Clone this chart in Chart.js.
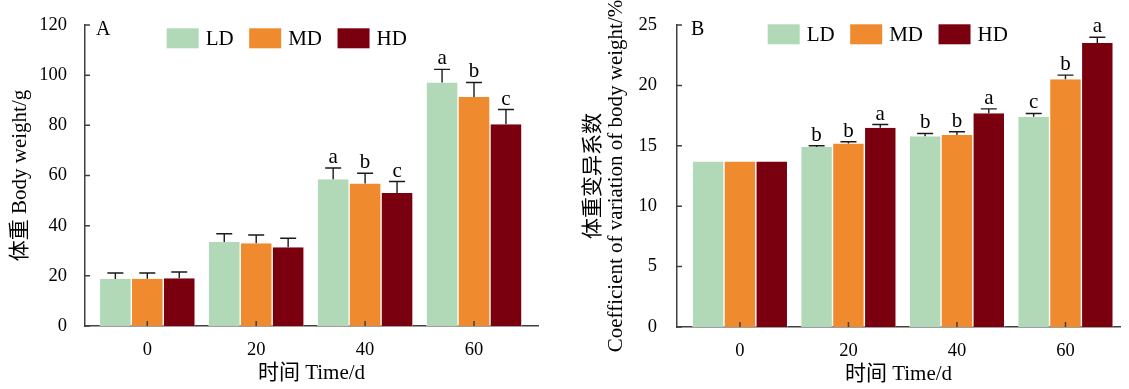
<!DOCTYPE html>
<html>
<head>
<meta charset="utf-8">
<script src="https://cdn.jsdelivr.net/npm/chart.js@4.4.1/dist/chart.umd.min.js"></script>
<style>
  body { margin: 0; background: #fff; }
  #wrap { position: relative; width: 1129px; height: 389px; }
  canvas { position: absolute; top: 0; }
</style>
</head>
<body>
<div id="wrap">
  <canvas id="chartA" width="564" height="389" style="left:0"></canvas>
  <canvas id="chartB" width="565" height="389" style="left:564px"></canvas>
</div>
<script>
// sampling days and groups
const days = [0, 20, 40, 60];
const groups = ['LD', 'MD', 'HD'];
const colors = ['#b1d9b7', '#ef8a2e', '#7b000f'];

// A: body weight (g), mean / SD / letters
const weightLD = [18.7, 33.5, 58.5, 97.1];
const weightMD = [18.8, 33.0, 56.8, 91.3];
const weightHD = [19.0, 31.4, 53.0, 80.4];
const weightSdLD = [2.4, 3.3, 4.5, 5.2];
const weightSdMD = [2.3, 3.3, 4.1, 5.8];
const weightSdHD = [2.5, 3.6, 4.6, 5.9];
const weightLetLD = ['', '', 'a', 'a'];
const weightLetMD = ['', '', 'b', 'b'];
const weightLetHD = ['', '', 'c', 'c'];

// B: coefficient of variation of body weight (%)
const cvLD = [13.7, 14.9, 15.8, 17.4];
const cvMD = [13.7, 15.2, 15.9, 20.5];
const cvHD = [13.7, 16.5, 17.7, 23.5];
const cvSdLD = [0, 0.1, 0.22, 0.28];
const cvSdMD = [0, 0.13, 0.26, 0.35];
const cvSdHD = [0, 0.26, 0.36, 0.48];
const cvLetLD = ['', 'b', 'b', 'c'];
const cvLetMD = ['', 'b', 'b', 'b'];
const cvLetHD = ['', 'a', 'a', 'a'];

const FONT = '"Liberation Serif", "Noto Sans CJK SC", serif';
const axisColor = '#404040';

// inward tick marks on both axes
const innerTicks = {
  id: 'innerTicks',
  afterDatasetsDraw(chart) {
    const { ctx, chartArea: a, scales: { x, y } } = chart;
    ctx.save();
    ctx.strokeStyle = axisColor;
    ctx.lineWidth = 1.5;
    ctx.beginPath();
    x.ticks.forEach(t => {
      const px = x.getPixelForValue(t.value);
      ctx.moveTo(px, a.bottom);
      ctx.lineTo(px, a.bottom - 5);
    });
    y.ticks.forEach(t => {
      const py = y.getPixelForValue(t.value);
      ctx.moveTo(a.left, py);
      ctx.lineTo(a.left + 5, py);
    });
    ctx.stroke();
    ctx.restore();
  }
};

// error bars + significance letters
const errorBars = {
  id: 'errorBars',
  afterDatasetsDraw(chart) {
    const ctx = chart.ctx;
    const y = chart.scales.y;
    ctx.save();
    ctx.font = '21px ' + FONT;
    ctx.fillStyle = '#000';
    ctx.textAlign = 'center';
    ctx.textBaseline = 'alphabetic';
    chart.data.datasets.forEach((ds, i) => {
      const meta = chart.getDatasetMeta(i);
      meta.data.forEach((bar, j) => {
        const sd = ds.sd[j];
        let top = bar.y;
        if (sd) {
          top = y.getPixelForValue(ds.data[j] + sd);
          ctx.strokeStyle = '#1a1a1a';
          ctx.lineWidth = 1.4;
          ctx.beginPath();
          ctx.moveTo(bar.x, bar.y);
          ctx.lineTo(bar.x, top);
          ctx.moveTo(bar.x - 8, top);
          ctx.lineTo(bar.x + 8, top);
          ctx.stroke();
        }
        if (ds.letters[j]) ctx.fillText(ds.letters[j], bar.x, top - 5);
      });
    });
    ctx.restore();
  }
};

// panel letter and legend row
const panel = {
  id: 'panel',
  afterDraw(chart, args, opts) {
    const ctx = chart.ctx;
    ctx.save();
    ctx.fillStyle = '#000';
    ctx.textBaseline = 'alphabetic';
    ctx.font = '20px ' + FONT;
    ctx.fillText(opts.label, opts.labelX, opts.labelY);
    ctx.font = '21px ' + FONT;
    let x = opts.legendX;
    chart.data.datasets.forEach(ds => {
      ctx.fillStyle = ds.backgroundColor;
      ctx.fillRect(x, opts.legendY, 32, 20);
      ctx.fillStyle = '#000';
      ctx.fillText(ds.label, x + 39, opts.legendY + 17);
      x += 39 + ctx.measureText(ds.label).width + 15.5;
    });
    ctx.restore();
  }
};

function makeChart(id, cfg) {
  const datasets = groups.map((g, i) => ({
    label: g,
    data: cfg.values[i],
    sd: cfg.sds[i],
    letters: cfg.letters[i],
    backgroundColor: colors[i],
    borderColor: 'rgba(255,255,255,0.85)',
    borderWidth: { left: 0.7, right: 0.7, top: 0, bottom: 0 },
    categoryPercentage: 0.88,
    barPercentage: 1
  }));

  return new Chart(document.getElementById(id), {
    type: 'bar',
    data: { labels: days, datasets },
    options: {
      responsive: false,
      animation: false,
      layout: { padding: { left: 0, top: 25, right: cfg.padRight, bottom: 0 } },
      plugins: {
        legend: { display: false },
        tooltip: { enabled: false },
        panel: cfg.panel
      },
      scales: {
        x: {
          type: 'linear',
          offset: false,
          min: cfg.xMin,
          max: cfg.xMax,
          z: 1,
          afterFit(s) { s.height = cfg.xHeight; },
          grid: { display: false },
          border: { color: axisColor, width: 1.5 },
          ticks: {
            stepSize: 20,
            includeBounds: false,
            padding: 5,
            color: '#000',
            font: { family: FONT, size: 18.5 }
          },
          title: {
            display: true,
            text: '时间 Time/d',
            color: '#000',
            font: { family: FONT, size: 21 },
            padding: { top: 0, bottom: cfg.xTitlePad }
          }
        },
        y: {
          min: 0,
          max: cfg.yMax,
          afterFit(s) { s.width = cfg.yWidth; },
          grid: { display: false },
          border: { color: axisColor, width: 1.5 },
          ticks: {
            stepSize: cfg.yStep,
            padding: cfg.yTickPad,
            color: '#000',
            font: { family: FONT, size: 18.5 }
          },
          title: {
            display: true,
            text: cfg.yTitle,
            color: '#000',
            font: { family: FONT, size: 21, lineHeight: '23px' },
            padding: { top: cfg.yTitlePad, bottom: 0 }
          }
        }
      }
    },
    plugins: [innerTicks, errorBars, panel]
  });
}

makeChart('chartA', {
  values: [weightLD, weightMD, weightHD],
  sds: [weightSdLD, weightSdMD, weightSdHD],
  letters: [weightLetLD, weightLetMD, weightLetHD],
  xMin: -11.44, xMax: 71.75,
  yMax: 120, yStep: 20,
  yWidth: 85, xHeight: 63, padRight: 26,
  yTickPad: 10, yTitlePad: 9, xTitlePad: 3,
  yTitle: '体重 Body weight/g',
  panel: { label: 'A', labelX: 96, labelY: 35, legendX: 166.7, legendY: 28.3 }
});

makeChart('chartB', {
  values: [cvLD, cvMD, cvHD],
  sds: [cvSdLD, cvSdMD, cvSdHD],
  letters: [cvLetLD, cvLetMD, cvLetHD],
  xMin: -11.6, xMax: 70.05,
  yMax: 25, yStep: 5,
  yWidth: 113, xHeight: 62, padRight: 9,
  yTickPad: 12, yTitlePad: 17.5, xTitlePad: 1.5,
  yTitle: ['体重变异系数', 'Coefficient of variation of body weight/%'],
  panel: { label: 'B', labelX: 127, labelY: 35, legendX: 203.7, legendY: 24.3 }
});
</script>
</body>
</html>
